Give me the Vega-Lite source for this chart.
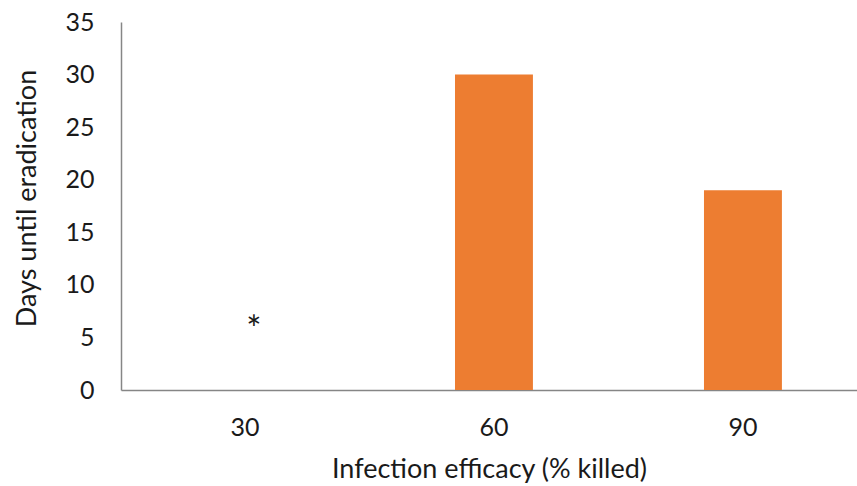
{
  "$schema": "https://vega.github.io/schema/vega-lite/v6.json",
  "autosize": "none",
  "width": 736,
  "height": 368,
  "padding": {"left": 121, "top": 22, "right": 0, "bottom": 96},
  "background": "white",
  "config": {
    "view": {"stroke": null},
    "font": "Lato",
    "axis": {
      "labelFont": "Lato",
      "titleFont": "Lato",
      "labelColor": "#1a1a1a",
      "titleColor": "#1a1a1a",
      "titleFontWeight": "normal",
      "domainColor": "#868686",
      "domainWidth": 1.5,
      "ticks": false,
      "grid": false
    }
  },
  "data": {
    "values": [
      {"efficacy": "30", "days": 0, "note": "*", "noteY": 5.6},
      {"efficacy": "60", "days": 30, "note": "", "noteY": null},
      {"efficacy": "90", "days": 19, "note": "", "noteY": null}
    ]
  },
  "layer": [
    {
      "mark": {"type": "bar", "color": "#ED7D31"},
      "encoding": {
        "x": {
          "field": "efficacy",
          "type": "ordinal",
          "sort": null,
          "scale": {"paddingInner": 0.687, "paddingOuter": 0.3215, "align": 0.531},
          "axis": {
            "title": "Infection efficacy (% killed)",
            "labelAngle": 0,
            "labelFontSize": 25,
            "labelPadding": 25,
            "titleFontSize": 27,
            "titlePadding": 16
          }
        },
        "y": {
          "field": "days",
          "type": "quantitative",
          "scale": {"domain": [0, 35], "nice": false},
          "axis": {
            "title": "Days until eradication",
            "values": [0, 5, 10, 15, 20, 25, 30, 35],
            "labelFontSize": 25,
            "labelPadding": 27,
            "titleFontSize": 27,
            "titlePadding": 23,
            "titleY": 176
          }
        }
      }
    },
    {
      "transform": [{"filter": "datum.note != ''"}],
      "mark": {"type": "text", "fontSize": 36, "font": "Lato", "color": "#1a1a1a", "dx": 9, "baseline": "middle"},
      "encoding": {
        "x": {"field": "efficacy", "type": "ordinal", "sort": null},
        "y": {"field": "noteY", "type": "quantitative"},
        "text": {"field": "note"}
      }
    }
  ]
}
